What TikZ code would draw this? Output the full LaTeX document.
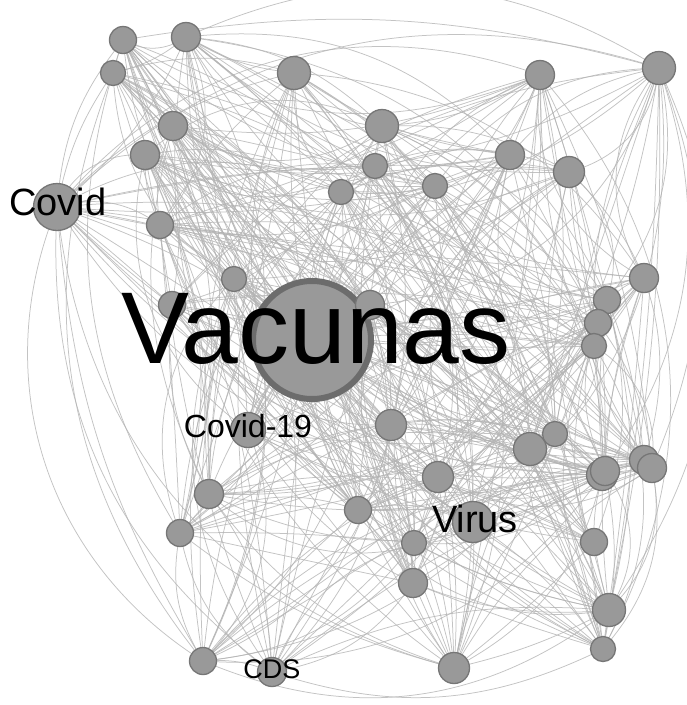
\documentclass[tikz,border=0pt]{standalone}
\usepackage{fontspec}
\setmainfont{Liberation Sans}
\pgfdeclarelayer{bg}
\pgfsetlayers{bg,main}
\definecolor{nodefill}{HTML}{999999}
\definecolor{nodeborder}{HTML}{767676}
\definecolor{vacborder}{HTML}{6C6C6C}
\definecolor{edgecol}{HTML}{B4B4B4}
\begin{document}
\begin{tikzpicture}[x=1pt,y=-1pt,
  vnode/.style={circle, draw=nodeborder, fill=nodefill, line width=1.3pt, inner sep=0pt},
  vacnode/.style={circle, draw=vacborder, fill=nodefill, line width=6pt, inner sep=0pt, minimum size=118pt},
  edge/.style={draw=edgecol, line width=0.75pt, draw opacity=0.8},
  lab/.style={inner sep=0pt, anchor=base, text=black}]
\useasboundingbox (0,0) rectangle (687,705);
\clip (0,0) rectangle (687,705);
\begin{pgfonlayer}{bg}
\fill[white] (0,0) rectangle (687,705);
\end{pgfonlayer}
% nodes
\node[vacnode] (vac) at (312,340) {};
\foreach \n/\x/\y/\r in {
 1/123/40/14, 2/186/37/15, 3/113/73/13, 4/294/73/17, 5/540/75/15,
 6/659/68/17, 7/173/126/15, 8/145/155/15, 9/382/126/17, 10/375/166/13,
 11/510/155/15, 12/569/172/16, 13/435/186/13, 14/341/192/13, 15/57/207/24,
 16/160/225/14, 17/234/279/13, 18/172/305/14, 19/370/305/15, 20/644/278/15,
 21/607/300/14, 22/598/323/14, 23/594/346/13, 24/248/430/18, 25/391/425/16,
 26/209/494/15, 27/180/533/14, 28/438/477/16, 29/358/510/14, 30/473/522/21,
 31/414/543/13, 32/413/583/15, 33/530/449/17, 34/555/434/13, 35/602/475/16,
 36/605/471/15, 37/644/460/15, 38/652/468/15, 39/594/542/14, 40/609/610/17,
 41/603/649/13, 42/454/668/16, 43/203/661/14, 44/272/672/15}
 {\node[vnode, minimum size=2*\r-1] (n\n) at (\x,\y) {};}
% edges
\begin{pgfonlayer}{bg}
\pgfmathsetseed{11}
\foreach \i in {1,...,44}{
  \pgfmathsetmacro\bend{rnd*40-20}
  \draw[edge] (vac.center) to[bend left=\bend] (n\i.center);
}
\foreach \i in {1,...,43}{
  \pgfmathtruncatemacro\start{\i+1}
  \foreach \j in {\start,...,44}{
    \pgfmathtruncatemacro\keep{rnd<0.46}
    \ifnum\keep=1
      \pgfmathsetmacro\bend{rnd*70-35}
      \draw[edge] (n\i.center) to[bend left=\bend] (n\j.center);
    \fi
  }
}
% long outer arcs
\draw[edge] (n2.center) to[bend left=28] (n6.center);
\draw[edge] (n15.center) to[bend right=40] (n43.center);
\draw[edge] (n15.center) to[bend right=28] (n44.center);
\draw[edge] (n3.center) to[bend right=30] (n43.center);
\draw[edge] (n1.center) to[bend right=25] (n27.center);
\draw[edge] (n43.center) to[bend right=30] (n40.center);
\draw[edge] (n44.center) to[bend right=22] (n41.center);
\draw[edge] (n6.center) to[bend left=30] (n40.center);
\draw[edge] (n6.center) to[bend left=22] (n38.center);
\draw[edge] (n5.center) to[bend left=35] (n41.center);
\end{pgfonlayer}
% labels
\node[lab, font=\fontsize{102}{102}\selectfont] (tvac) at (316,363) {Vacunas};
\node[lab, font=\fontsize{38}{38}\selectfont] (tcovid) at (58,215) {Covid};
\node[lab, font=\fontsize{32}{32}\selectfont] (tcovid19) at (248,437) {Covid-19};
\node[lab, font=\fontsize{38}{38}\selectfont] (tvirus) at (475,532) {Virus};
\node[lab, font=\fontsize{27}{27}\selectfont] (tcds) at (272,678) {CDS};
\end{tikzpicture}
\end{document}
